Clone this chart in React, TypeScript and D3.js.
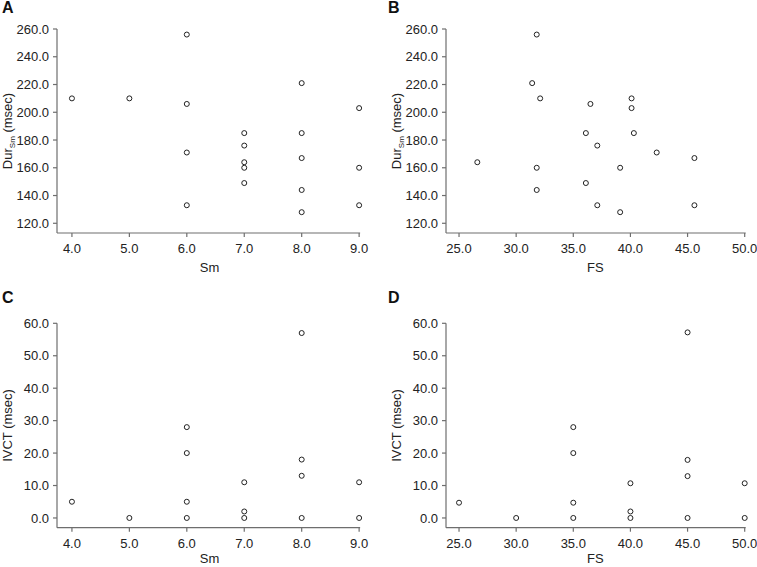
import React from "react";
import * as d3 from "d3";

const smA = [4, 5, 6, 6, 6, 6, 7, 7, 7, 7, 7, 8, 8, 8, 8, 8, 9, 9, 9];
const durA = [210, 210, 256, 206, 171, 133, 185, 176, 164, 160, 149, 221, 185, 167, 144, 128, 203, 160, 133];

const fsB = [31.8, 31.4, 32.1, 36.5, 40.1, 40.1, 36.1, 40.3, 37.1, 42.3, 45.6, 26.6, 31.8, 39.1, 36.1, 31.8, 37.1, 45.6, 39.1];
const durB = [256, 221, 210, 206, 210, 203, 185, 185, 176, 171, 167, 164, 160, 160, 149, 144, 133, 133, 128];

const smC = [4, 5, 6, 6, 6, 6, 7, 7, 7, 8, 8, 8, 8, 9, 9];
const ivctC = [5, 0, 28, 20, 5, 0, 11, 2, 0, 57, 18, 13, 0, 11, 0];

const fsD = [25, 30, 35, 35, 35, 35, 40, 40, 40, 45, 45, 45, 45, 50, 50];
const ivctD = [4.7, 0, 28, 20, 4.7, 0, 10.7, 2, 0, 57.2, 17.9, 12.9, 0, 10.7, 0];

const smTicks = [4, 5, 6, 7, 8, 9];
const fsTicks = [25, 30, 35, 40, 45, 50];
const durTicks = [120, 140, 160, 180, 200, 220, 240, 260];
const ivctTicks = [0, 10, 20, 30, 40, 50, 60];

const FONT = "'Liberation Sans', Arial, sans-serif";
const AXIS = "#6e6e6e";
const TXT = "#222";

type PanelProps = {
  letter: string;
  letterX: number;
  letterY: number;
  xs: number[];
  ys: number[];
  xDomain: [number, number];
  xRange: [number, number];
  yDomain: [number, number];
  yRange: [number, number];
  xTicks: number[];
  yTicks: number[];
  xLabel: string;
  xLabelGap: number;
  yLabel: "dur" | "ivct";
  yLabelX: number;
};

function Panel(p: PanelProps) {
  const x = d3.scaleLinear().domain(p.xDomain).range(p.xRange);
  const y = d3.scaleLinear().domain(p.yDomain).range(p.yRange);
  const x0 = p.xRange[0];
  const x1 = p.xRange[1];
  const yb = p.yRange[0];
  const yt = p.yRange[1];
  const yMid = (yb + yt) / 2;
  const xMid = (x0 + x1) / 2;
  return (
    <g fontFamily={FONT}>
      <text x={p.letterX} y={p.letterY} fontSize={16} fontWeight="bold" fill="#111">{p.letter}</text>
      <line x1={x0} x2={x0} y1={y(p.yTicks[p.yTicks.length - 1])} y2={yb} stroke={AXIS} strokeWidth={1.2} />
      <line x1={x0} x2={x(p.xTicks[p.xTicks.length - 1]) + 1} y1={yb} y2={yb} stroke={AXIS} strokeWidth={1.2} />
      {p.yTicks.map((t) => (
        <g key={"y" + t}>
          <line x1={x0 - 4} x2={x0} y1={y(t)} y2={y(t)} stroke={AXIS} strokeWidth={1.2} />
          <text x={x0 - 8} y={y(t)} dy="0.35em" textAnchor="end" fontSize={13} fill={TXT}>{t.toFixed(1)}</text>
        </g>
      ))}
      {p.xTicks.map((t) => (
        <g key={"x" + t}>
          <line x1={x(t)} x2={x(t)} y1={yb} y2={yb + 4} stroke={AXIS} strokeWidth={1.2} />
          <text x={x(t)} y={yb + 20} textAnchor="middle" fontSize={13} fill={TXT}>{t.toFixed(1)}</text>
        </g>
      ))}
      <text x={xMid} y={yb + p.xLabelGap} textAnchor="middle" fontSize={13} fill={TXT}>{p.xLabel}</text>
      <text transform={`translate(${p.yLabelX},${yMid}) rotate(-90)`} textAnchor="middle" fontSize={13} fill={TXT}>
        {p.yLabel === "dur" ? (
          <>
            <tspan>Dur</tspan>
            <tspan fontSize={8} dy={3}>Sm</tspan>
            <tspan dy={-3}> (msec)</tspan>
          </>
        ) : (
          <tspan>IVCT (msec)</tspan>
        )}
      </text>
      {p.xs.map((v, i) => (
        <circle key={i} cx={x(v)} cy={y(p.ys[i])} r={2.5} fill="white" stroke="#222" strokeWidth={1} />
      ))}
    </g>
  );
}

export default function App() {
  return (
    <svg width={757} height={567} style={{ position: "absolute", left: 0, top: 0, background: "white" }}>
      <rect width={757} height={567} fill="white" />
      <Panel letter="A" letterX={2} letterY={13} xs={smA} ys={durA}
        xDomain={[3.74, 9.05]} xRange={[57, 362]} yDomain={[113, 260]} yRange={[233, 29]}
        xTicks={smTicks} yTicks={durTicks} xLabel="Sm" xLabelGap={39} yLabel="dur" yLabelX={12} />
      <Panel letter="B" letterX={388} letterY={13} xs={fsB} ys={durB}
        xDomain={[23.86, 50]} xRange={[446, 744.7]} yDomain={[113, 260]} yRange={[233, 29]}
        xTicks={fsTicks} yTicks={durTicks} xLabel="FS" xLabelGap={39} yLabel="dur" yLabelX={401} />
      <Panel letter="C" letterX={2} letterY={303} xs={smC} ys={ivctC}
        xDomain={[3.74, 9.05]} xRange={[57, 362]} yDomain={[-3, 60]} yRange={[527.7, 323.3]}
        xTicks={smTicks} yTicks={ivctTicks} xLabel="Sm" xLabelGap={35.5} yLabel="ivct" yLabelX={12} />
      <Panel letter="D" letterX={388} letterY={303} xs={fsD} ys={ivctD}
        xDomain={[23.86, 50]} xRange={[446, 744.7]} yDomain={[-3, 60]} yRange={[527.7, 323.3]}
        xTicks={fsTicks} yTicks={ivctTicks} xLabel="FS" xLabelGap={35.5} yLabel="ivct" yLabelX={401} />
    </svg>
  );
}
